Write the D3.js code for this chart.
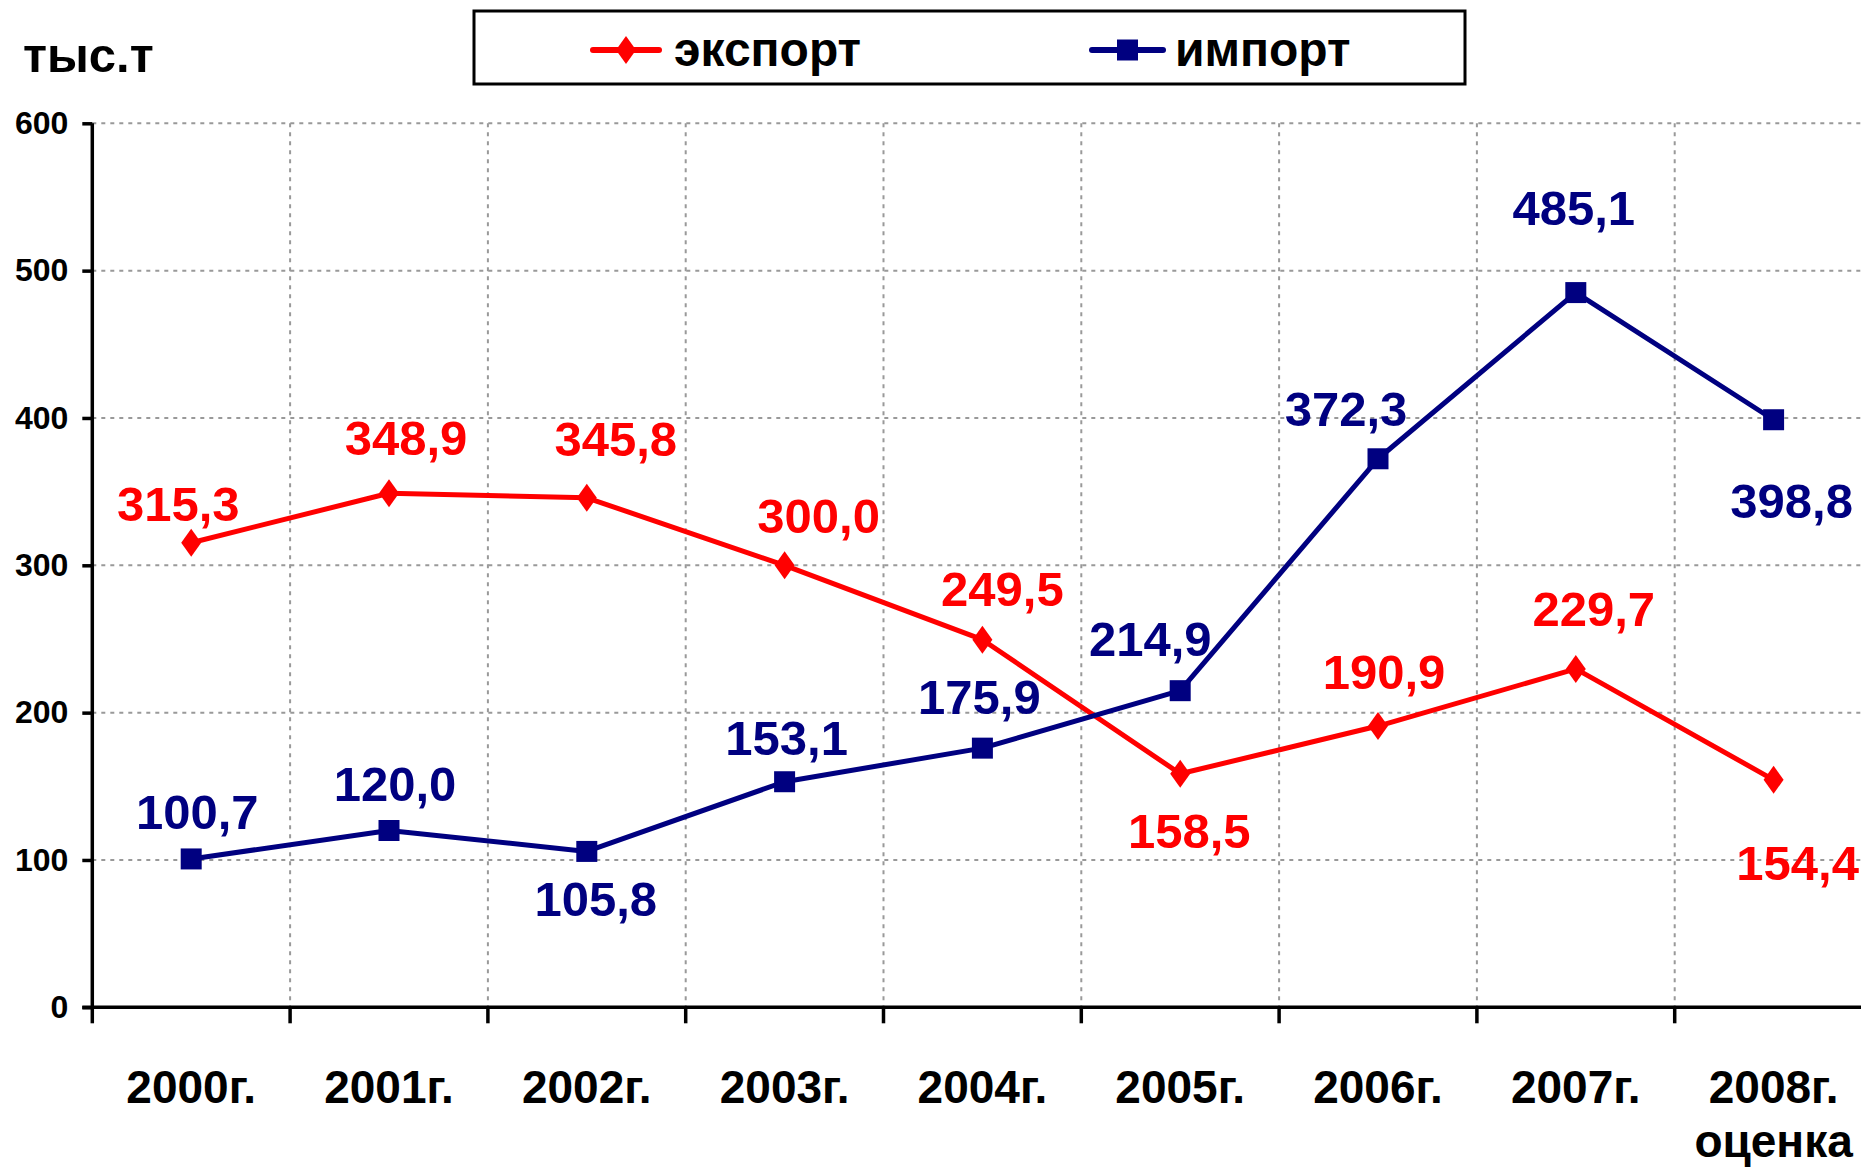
<!DOCTYPE html>
<html>
<head>
<meta charset="utf-8">
<script src="https://cdn.jsdelivr.net/npm/d3@7"></script>
<style>
  body { margin: 0; background: #fff; }
  svg text { font-family: "Liberation Sans", Arial, sans-serif; font-weight: bold; }
</style>
</head>
<body>
<div id="chart"></div>
<script>
const years = ["2000г.", "2001г.", "2002г.", "2003г.", "2004г.", "2005г.", "2006г.", "2007г.", "2008г."];
const exportValues = [315.3, 348.9, 345.8, 300.0, 249.5, 158.5, 190.9, 229.7, 154.4];
const importValues = [100.7, 120.0, 105.8, 153.1, 175.9, 214.9, 372.3, 485.1, 398.8];
const yTicks = [0, 100, 200, 300, 400, 500, 600];

// смещения подписей относительно точек (только раскладка)
const exportLabelOffsets = [[-13, -39], [17, -56], [29, -59], [34, -50], [20, -51], [9, 57], [6, -55], [18, -61], [24, 83]];
const importLabelOffsets = [[6, -48], [6, -47], [9, 47], [2, -44], [-3, -52], [-30, -52], [-32, -50], [-2, -85], [18, 81]];

const width = 1861;
const height = 1167;
const plotLeft = 92.3;
const plotTop = 123.3;
const plotBottom = 1007.3;
const band = 197.8;

const fmt = d3.formatLocale({ decimal: ",", thousands: " ", grouping: [3], currency: ["", ""] }).format(".1f");

const svg = d3.select("#chart").append("svg")
  .attr("width", width)
  .attr("height", height);

const x = d3.scaleBand()
  .domain(years)
  .range([plotLeft, plotLeft + band * years.length])
  .padding(0);

const y = d3.scaleLinear()
  .domain([0, 600])
  .range([plotBottom, plotTop]);

const cx = (d) => x(d) + x.bandwidth() / 2;

// сетка горизонтальная
svg.append("g")
  .selectAll("line")
  .data(yTicks.filter((t) => t > 0))
  .enter()
  .append("line")
  .attr("x1", plotLeft)
  .attr("x2", width)
  .attr("y1", (d) => y(d))
  .attr("y2", (d) => y(d))
  .attr("stroke", "#999")
  .attr("stroke-width", 2)
  .attr("stroke-dasharray", "4,5");

// сетка вертикальная
svg.append("g")
  .selectAll("line")
  .data(years.slice(1))
  .enter()
  .append("line")
  .attr("x1", (d) => x(d))
  .attr("x2", (d) => x(d))
  .attr("y1", plotTop)
  .attr("y2", plotBottom)
  .attr("stroke", "#999")
  .attr("stroke-width", 2)
  .attr("stroke-dasharray", "4,5");

// ось y
const yAxis = svg.append("g")
  .attr("transform", `translate(${plotLeft},0)`)
  .call(d3.axisLeft(y).tickValues(yTicks).tickSize(10).tickPadding(14).tickFormat(d3.format("d")));
yAxis.select(".domain").attr("stroke", "#000").attr("stroke-width", 3.5).attr("d", `M0,${plotTop}V${plotBottom}`);
yAxis.selectAll(".tick line").attr("stroke", "#000").attr("stroke-width", 3.5);
yAxis.selectAll(".tick text").attr("font-size", 32).attr("fill", "#000")
  .style("font-family", "Liberation Sans, Arial, sans-serif").style("font-weight", "bold");

// ось x
const xAxis = svg.append("g")
  .attr("transform", `translate(0,${plotBottom})`);
xAxis.append("line")
  .attr("x1", plotLeft - 10).attr("x2", width)
  .attr("stroke", "#000").attr("stroke-width", 3.5);
xAxis.selectAll(".tickmark")
  .data(years)
  .enter()
  .append("line")
  .attr("x1", (d) => x(d)).attr("x2", (d) => x(d))
  .attr("y1", 0).attr("y2", 16)
  .attr("stroke", "#000").attr("stroke-width", 3.5);
svg.append("g")
  .selectAll("text")
  .data(years)
  .enter()
  .append("text")
  .attr("x", (d) => cx(d))
  .attr("y", 1103)
  .attr("text-anchor", "middle")
  .attr("font-size", 46)
  .attr("fill", "#000")
  .text((d) => d);
svg.append("text")
  .attr("x", cx(years[years.length - 1]))
  .attr("y", 1157)
  .attr("text-anchor", "middle")
  .attr("font-size", 46)
  .attr("fill", "#000")
  .text("оценка");

// подпись единиц
svg.append("text")
  .attr("x", 23)
  .attr("y", 72)
  .attr("font-size", 49)
  .attr("fill", "#000")
  .text("тыс.т");

const line = d3.line()
  .x((d, i) => cx(years[i]))
  .y((d) => y(d));

const series = [
  { name: "экспорт", values: exportValues, color: "#ff0000", marker: "diamond", offsets: exportLabelOffsets },
  { name: "импорт", values: importValues, color: "#000080", marker: "square", offsets: importLabelOffsets },
];

const markerPath = (type) =>
  type === "diamond" ? "M0,-14L10,0L0,14L-10,0Z" : "M-10.5,-10.5H10.5V10.5H-10.5Z";

series.forEach((s) => {
  svg.append("path")
    .datum(s.values)
    .attr("fill", "none")
    .attr("stroke", s.color)
    .attr("stroke-width", 5)
    .attr("stroke-linejoin", "round")
    .attr("d", line);

  svg.append("g")
    .selectAll("path")
    .data(s.values)
    .enter()
    .append("path")
    .attr("transform", (d, i) => `translate(${cx(years[i])},${y(d)})`)
    .attr("d", markerPath(s.marker))
    .attr("fill", s.color);

  svg.append("g")
    .selectAll("text")
    .data(s.values)
    .enter()
    .append("text")
    .attr("x", (d, i) => cx(years[i]) + s.offsets[i][0])
    .attr("y", (d, i) => y(d) + s.offsets[i][1])
    .attr("dy", "0.36em")
    .attr("text-anchor", "middle")
    .attr("font-size", 49)
    .attr("fill", s.color)
    .text((d) => fmt(d));
});

// легенда
const legend = svg.append("g");
legend.append("rect")
  .attr("x", 474).attr("y", 11)
  .attr("width", 991).attr("height", 73)
  .attr("fill", "#fff")
  .attr("stroke", "#000")
  .attr("stroke-width", 3);

const legendItems = [
  { x1: 593, x2: 659, tx: 674 },
  { x1: 1092, x2: 1163, tx: 1175 },
];
series.forEach((s, i) => {
  const it = legendItems[i];
  legend.append("line")
    .attr("x1", it.x1).attr("x2", it.x2)
    .attr("y1", 50).attr("y2", 50)
    .attr("stroke", s.color).attr("stroke-width", 6).attr("stroke-linecap", "round");
  legend.append("path")
    .attr("transform", `translate(${(it.x1 + it.x2) / 2},50)`)
    .attr("d", markerPath(s.marker))
    .attr("fill", s.color);
  legend.append("text")
    .attr("x", it.tx).attr("y", 66)
    .attr("font-size", 48)
    .attr("fill", "#000")
    .text(s.name);
});
</script>
</body>
</html>
